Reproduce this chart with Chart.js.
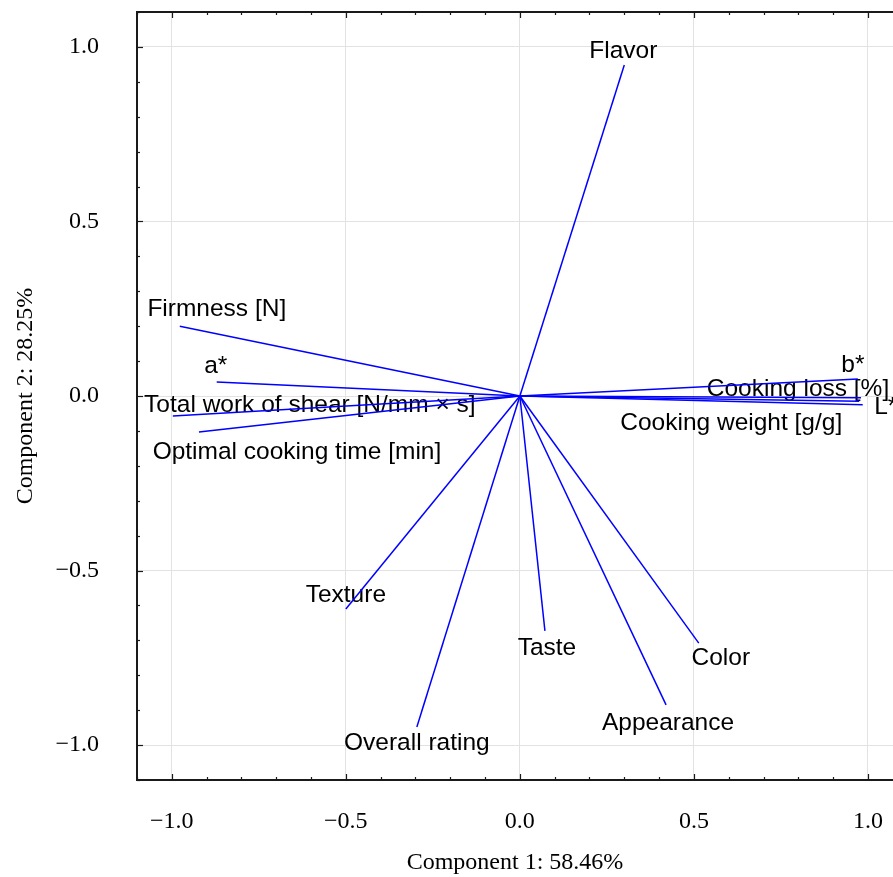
<!DOCTYPE html>
<html>
<head>
<meta charset="utf-8">
<script src="https://cdn.jsdelivr.net/npm/chart.js@4.4.1/dist/chart.umd.min.js"></script>
<style>
	html, body { margin: 0; padding: 0; background: #fff; overflow: hidden; }
	#wrap { width: 893px; height: 877px; }
</style>
</head>
<body>
<div id="wrap"><canvas id="myChart" width="893" height="877"></canvas></div>
<script>
// PCA loadings: one vector per variable
const variables = [
	"Flavor", "Firmness [N]", "a*", "Total work of shear [N/mm \u00d7 s]",
	"Optimal cooking time [min]", "Texture", "Overall rating", "Taste",
	"Appearance", "Color", "b*", "Cooking loss [%]", "L*", "Cooking weight [g/g]"
];
const component1 = [0.30, -0.977, -0.871, -0.997, -0.922, -0.50, -0.296, 0.072, 0.42, 0.514, 0.971, 0.98, 0.985, 0.975];
const component2 = [0.948, 0.20, 0.040, -0.057, -0.103, -0.61, -0.948, -0.673, -0.885, -0.708, 0.049, -0.005, -0.025, -0.015];

// where each text sits relative to the vector tip, in pixels
const labelOffsets = [
	[-1, -14], [37, -17], [-1, -16], [137, -11], [98, 20], [0, -14], [0, 16],
	[2, 17], [2, 18], [22, 15], [-5, -14], [-63, -8], [23, 3], [-128, 22]
];

const xTitle = "Component 1: 58.46%";
const yTitle = "Component 2: 28.25%";

const serif = "'Liberation Serif', 'Times New Roman', serif";
const sans = "'Liberation Sans', Arial, sans-serif";

function isStep(v, step) {
	const r = v / step;
	return Math.abs(r - Math.round(r)) < 1e-6;
}
function fmt(v) {
	if (!isStep(v, 0.5)) return "";
	const s = Math.abs(v).toFixed(1);
	return v < -1e-9 ? "\u2212" + s : s;
}
// keep the plot box fixed, no room reserved for edge labels
function noPad(s) {
	s.paddingTop = s.paddingBottom = s.paddingLeft = s.paddingRight = 0;
}

const datasets = variables.map((name, i) => ({
	label: name,
	data: [{ x: 0, y: 0 }, { x: component1[i], y: component2[i] }],
	showLine: true,
	borderColor: "#0000ff",
	borderWidth: 1.5,
	pointRadius: 0,
	fill: false,
}));

const axisMarks = {
	id: "axisMarks",
	beforeDatasetsDraw(chart) {
		const { ctx } = chart;
		const xs = chart.scales.x, ys = chart.scales.y;
		// variable names
		ctx.save();
		ctx.font = "24.5px " + sans;
		ctx.fillStyle = "#000";
		ctx.textAlign = "center";
		ctx.textBaseline = "middle";
		variables.forEach((name, i) => {
			const px = xs.getPixelForValue(component1[i]) + labelOffsets[i][0];
			const py = ys.getPixelForValue(component2[i]) + labelOffsets[i][1];
			ctx.fillText(name, px, py);
		});
		ctx.restore();
	},
	afterDraw(chart) {
		const { ctx, chartArea } = chart;
		const xs = chart.scales.x, ys = chart.scales.y;
		ctx.save();
		ctx.strokeStyle = "#1a1a1a";
		ctx.lineWidth = 2;
		// top frame line
		ctx.beginPath();
		ctx.moveTo(chartArea.left, chartArea.top);
		ctx.lineTo(chartArea.right, chartArea.top);
		ctx.stroke();
		// inward tick marks
		ctx.lineWidth = 1.2;
		xs.ticks.forEach((t) => {
			if (!isStep(t.value, 0.1)) return;
			const len = isStep(t.value, 0.5) ? 6 : 3;
			const p = Math.round(xs.getPixelForValue(t.value)) + 0.5;
			ctx.beginPath();
			ctx.moveTo(p, chartArea.bottom);
			ctx.lineTo(p, chartArea.bottom - len);
			ctx.moveTo(p, chartArea.top);
			ctx.lineTo(p, chartArea.top + len);
			ctx.stroke();
		});
		ys.ticks.forEach((t) => {
			if (!isStep(t.value, 0.1)) return;
			const len = isStep(t.value, 0.5) ? 6 : 3;
			const p = Math.round(ys.getPixelForValue(t.value)) + 0.5;
			ctx.beginPath();
			ctx.moveTo(chartArea.left, p);
			ctx.lineTo(chartArea.left + len, p);
			ctx.stroke();
		});
		ctx.restore();
	},
};

const gridColor = (c) => (c.tick && isStep(c.tick.value, 0.5) ? "#e2e2e2" : "rgba(0,0,0,0)");

new Chart(document.getElementById("myChart"), {
	type: "scatter",
	data: { datasets: datasets },
	options: {
		responsive: false,
		animation: false,
		layout: { autoPadding: false, padding: { top: 12, right: 0, left: 0, bottom: 0 } },
		plugins: { legend: { display: false }, tooltip: { enabled: false } },
		scales: {
			x: {
				type: "linear",
				min: -1.1,
				max: 1.072,
				afterFit: (s) => { s.height = 97; noPad(s); },
				grid: { color: gridColor, lineWidth: 1, drawTicks: false },
				border: { display: true, color: "#1a1a1a", width: 2 },
				ticks: {
					stepSize: 0.1, includeBounds: false, autoSkip: false, maxRotation: 0, maxTicksLimit: 100,
					padding: 27, color: "#000", font: { family: serif, size: 24 },
					callback: (v) => fmt(v),
				},
				title: {
					display: true, text: xTitle, color: "#000",
					font: { family: serif, size: 24 }, padding: { top: 0, bottom: 0 },
				},
			},
			y: {
				type: "linear",
				min: -1.1,
				max: 1.1,
				afterFit: (s) => { s.width = 137; noPad(s); },
				grid: { color: gridColor, lineWidth: 1, drawTicks: false },
				border: { display: true, color: "#1a1a1a", width: 2 },
				ticks: {
					stepSize: 0.1, includeBounds: false, autoSkip: false, maxTicksLimit: 100,
					padding: 38, color: "#000", font: { family: serif, size: 24 },
					callback: (v) => fmt(v),
				},
				title: {
					display: true, text: yTitle, color: "#000",
					font: { family: serif, size: 24 }, padding: { top: 11, bottom: 0 },
				},
			},
		},
	},
	plugins: [axisMarks],
});
</script>
</body>
</html>
